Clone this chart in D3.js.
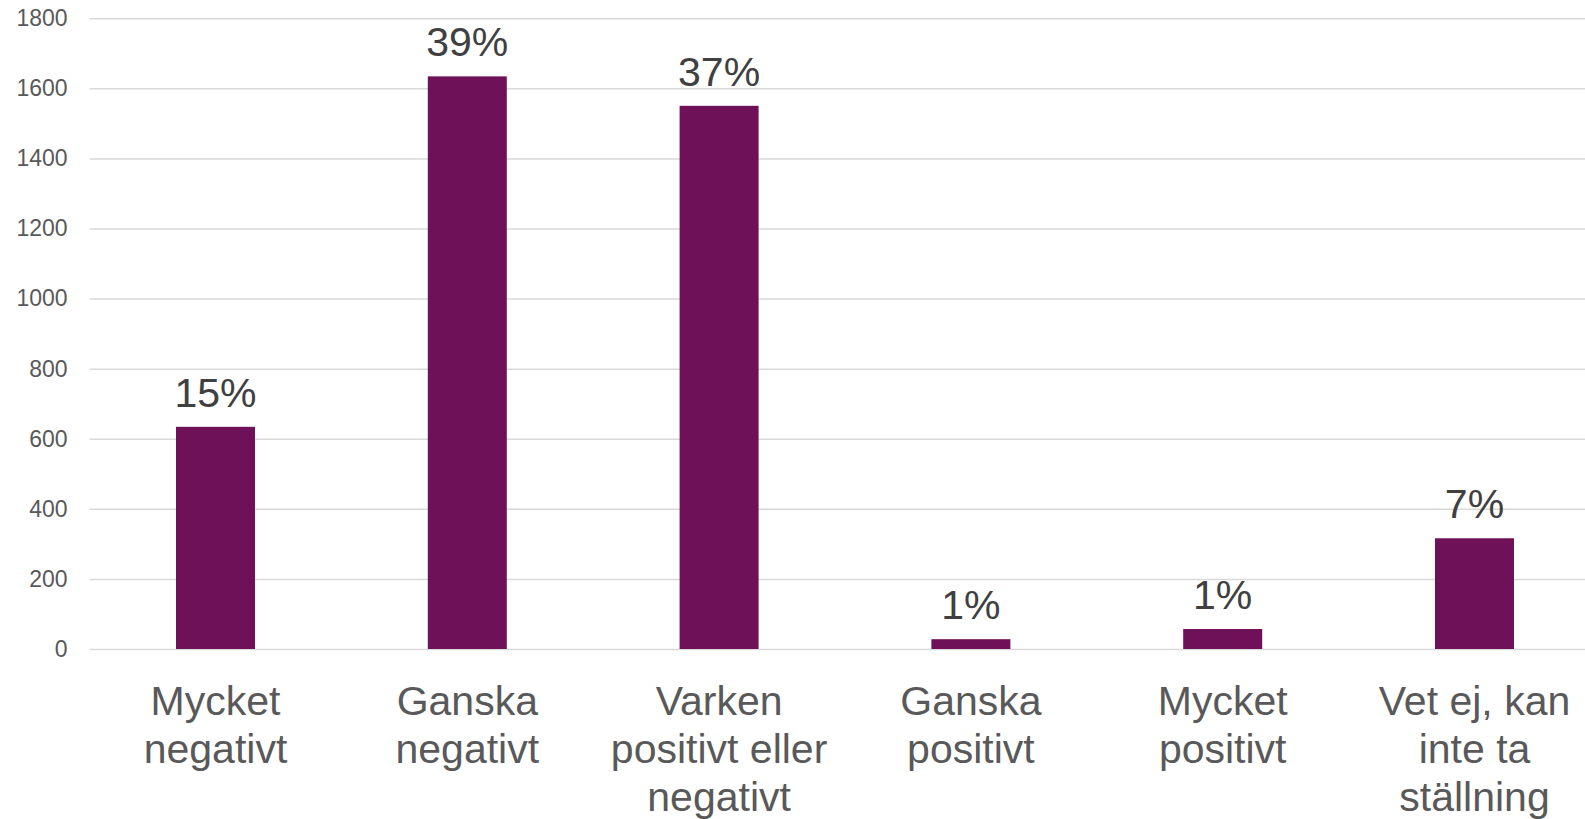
<!DOCTYPE html>
<meta charset="utf-8">
<title>Inställning</title>
<style>
  body { margin: 0; background: #fff; }
  text { font-family: "Liberation Sans", Arial, sans-serif; }
</style>
<body>
  <script src="https://d3js.org/d3.v7.min.js"></script>
  <script>
    const width = 1585;
    const height = 819;

    const categories = ["Mycket negativt", "Ganska negativt", "Varken positivt eller negativt",
                        "Ganska positivt", "Mycket positivt", "Vet ej, kan inte ta ställning"];
    const counts = [634, 1634, 1550, 28, 57, 316];
    const shares = ["15%", "39%", "37%", "1%", "1%", "7%"];
    const yTicks = [0, 200, 400, 600, 800, 1000, 1200, 1400, 1600, 1800];

    // band of ~252px per category, the last one runs past the right edge
    const plotLeft = 89.6, plotRight = 1600.4, plotTop = 18.2, plotBottom = 649;
    const barW = 79;

    const svg = d3.select("body").append("svg")
      .attr("width", width)
      .attr("height", height);

    // scales
    const x = d3.scaleBand().domain(categories).range([plotLeft, plotRight]);
    const y = d3.scaleLinear().domain([0, 1800]).range([plotBottom, plotTop]);

    // gridlines + y labels
    const yAxis = d3.axisLeft(y)
      .tickValues(yTicks)
      .tickFormat(d3.format("d"))
      .tickSize(-(plotRight - plotLeft))
      .tickPadding(22);
    const gy = svg.append("g")
      .attr("transform", `translate(${plotLeft},0)`)
      .call(yAxis);
    gy.select(".domain").remove();
    gy.selectAll(".tick line").attr("stroke", "#d9d9d9").attr("stroke-width", 1.5);
    gy.selectAll(".tick text")
      .attr("fill", "#595959")
      .style("font-size", "23px")
      .style("font-family", "'Liberation Sans', Arial, sans-serif");

    // bars
    svg.append("g")
      .selectAll("rect")
      .data(categories)
      .join("rect")
      .attr("x", d => x(d) + x.bandwidth() / 2 - barW / 2)
      .attr("y", (d, i) => y(counts[i]))
      .attr("width", barW)
      .attr("height", (d, i) => y(0) - y(counts[i]))
      .attr("fill", "#6e1159");

    // value labels
    svg.append("g")
      .selectAll("text")
      .data(categories)
      .join("text")
      .attr("x", d => x(d) + x.bandwidth() / 2)
      .attr("y", (d, i) => y(counts[i]) - 20)
      .attr("text-anchor", "middle")
      .attr("fill", "#404040")
      .style("font-size", "41px")
      .text((d, i) => shares[i]);

    // category labels, wrapped to the band width
    const xl = svg.append("g");
    categories.forEach(c => {
      const t = xl.append("text")
        .attr("text-anchor", "middle")
        .attr("fill", "#595959")
        .style("font-size", "41px");
      const cx = x(c) + x.bandwidth() / 2;
      const words = c.split(" ");
      let lines = [], line = [];
      const probe = t.append("tspan");
      words.forEach(w => {
        probe.text(line.concat(w).join(" "));
        if (probe.node().getComputedTextLength() > x.bandwidth() - 8 && line.length) {
          lines.push(line.join(" "));
          line = [w];
        } else {
          line.push(w);
        }
      });
      lines.push(line.join(" "));
      probe.remove();
      lines.forEach((l, k) => {
        t.append("tspan")
          .attr("x", cx)
          .attr("y", plotBottom + 66 + k * 48)
          .text(l);
      });
    });
  </script>
</body>
